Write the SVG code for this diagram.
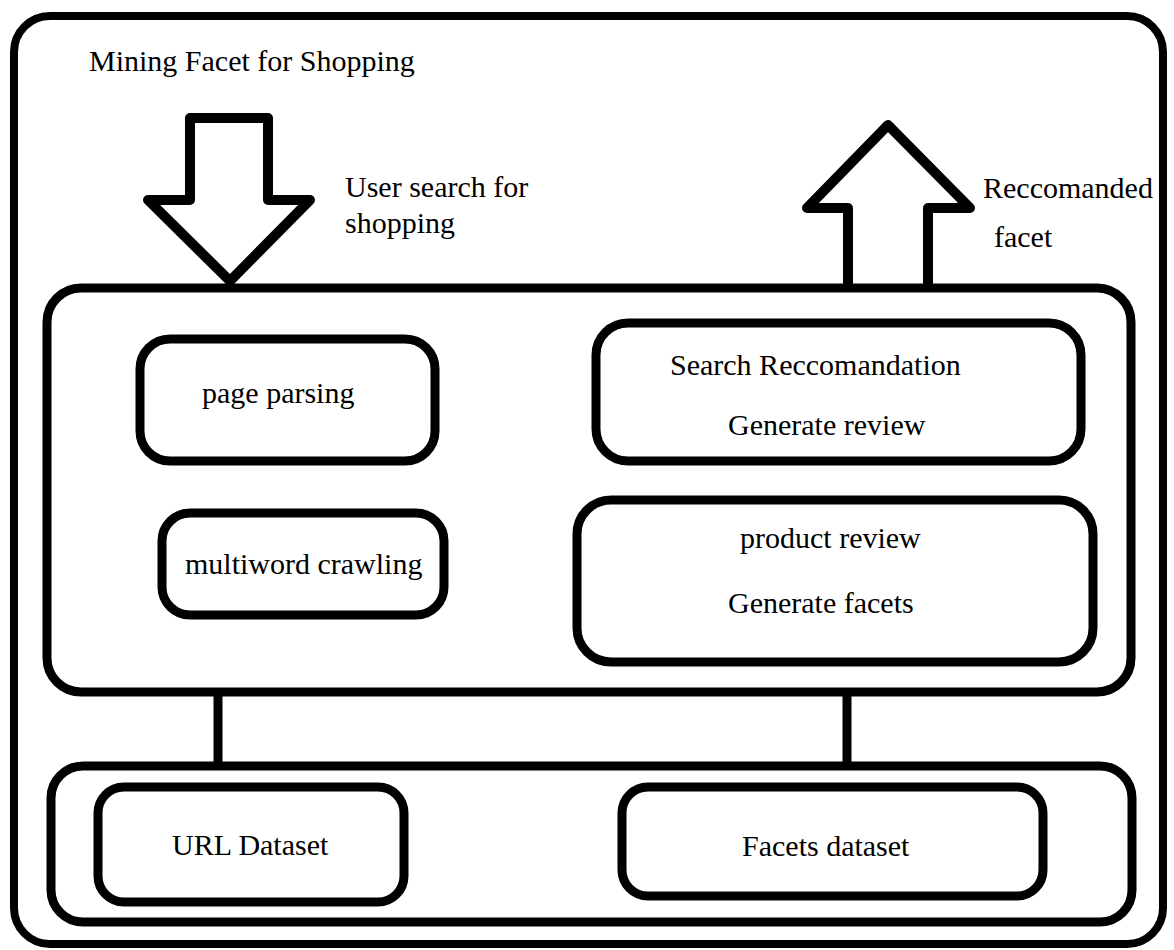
<svg xmlns="http://www.w3.org/2000/svg" width="1174" height="950" viewBox="0 0 1174 950">
<style>
.box{fill:none;stroke:#000;stroke-width:9}
.frame{fill:none;stroke:#000;stroke-width:8}
.arrow{fill:#fff;stroke:#000;stroke-width:10;stroke-linejoin:round}
.link{stroke:#000;stroke-width:9}
text{font-family:"Liberation Serif","Times New Roman",serif;font-size:30px;fill:#000}
</style>
<rect width="1174" height="950" fill="#fff"/>
<g id="frame">
<rect class="frame" x="14" y="16" width="1149" height="928" rx="36"/>
<text x="89" y="71">Mining Facet for Shopping</text>
</g>
<g id="connectors">
<polygon class="arrow" points="190,118 268,118 268,200 310,200 230,281 148,200 190,200"/>
<polyline class="arrow" points="848,288 848,208 807,208 888,125 970,208 928,208 928,288"/>
<line class="link" x1="218" y1="692" x2="218" y2="766"/>
<line class="link" x1="847" y1="692" x2="847" y2="766"/>
</g>
<g id="label-user-search">
<text x="345" y="197">User search for</text>
<text x="345" y="233">shopping</text>
</g>
<g id="label-recommended">
<text x="983" y="198">Reccomanded</text>
<text x="994" y="247">facet</text>
</g>
<g id="processing">
<rect class="box" x="47" y="288" width="1084" height="404" rx="34"/>
</g>
<g id="page-parsing">
<rect class="box" x="140" y="339" width="295" height="122" rx="30"/>
<text x="202" y="403">page parsing</text>
</g>
<g id="multiword-crawling">
<rect class="box" x="162" y="513" width="282" height="102" rx="28"/>
<text x="185" y="574">multiword crawling</text>
</g>
<g id="search-recommendation">
<rect class="box" x="596" y="323" width="485" height="138" rx="32"/>
<text x="670" y="375">Search Reccomandation</text>
<text x="728" y="435">Generate review</text>
</g>
<g id="product-review">
<rect class="box" x="577" y="500" width="516" height="162" rx="34"/>
<text x="740" y="548">product review</text>
<text x="728" y="613">Generate facets</text>
</g>
<g id="storage">
<rect class="box" x="51" y="766" width="1081" height="156" rx="32"/>
</g>
<g id="url-dataset">
<rect class="box" x="98" y="787" width="306" height="115" rx="26"/>
<text x="172" y="855">URL Dataset</text>
</g>
<g id="facets-dataset">
<rect class="box" x="622" y="787" width="421" height="109" rx="26"/>
<text x="742" y="856">Facets dataset</text>
</g>
</svg>
